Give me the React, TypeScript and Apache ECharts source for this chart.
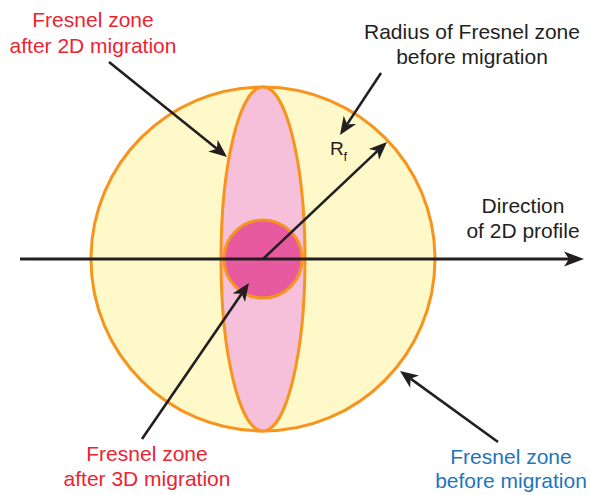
import React, { useEffect, useRef } from "react";
import * as echarts from "echarts";

// Fresnel zones (centre x, centre y, radius x, radius y) in diagram units
const zoneNames = ["before migration", "after 2D migration", "after 3D migration"];
const zoneCenterX = [263, 263, 263];
const zoneCenterY = [259, 259, 259];
const zoneRadiusX = [172, 42, 39];
const zoneRadiusY = [172, 172, 39];

// Arrows: from -> to (tip), in diagram units
const arrowNames = ["2D profile", "Rf", "radius label", "2D label", "3D label", "before label"];
const arrowFromX = [20, 263, 381, 109, 142, 498];
const arrowFromY = [259, 259, 73, 62, 439, 442];
const arrowToX = [584, 387, 340, 227, 249, 400];
const arrowToY = [259, 142, 135, 157, 283, 371];

// Text labels (one entry per line)
const labelLines = [
  "Fresnel zone",
  "after 2D migration",
  "Radius of Fresnel zone",
  "before migration",
  "Direction",
  "of 2D profile",
  "Fresnel zone",
  "after 3D migration",
  "Fresnel zone",
  "before migration",
];
const labelX = [93, 93, 472, 472, 523, 523, 147, 147, 511, 511];
const labelY = [19, 45, 31, 56, 205, 230, 453, 478, 456, 480];
const labelKind = [0, 0, 1, 1, 1, 1, 0, 0, 2, 2];

const ZONE_FILL = ["#fff8c8", "#f7c0da", "#e85aa0"];
const ORANGE = "#f7941d";
const INK = "#231f20";
const KIND_COLOR = ["#ec2431", "#231f20", "#1c76bd"];
const FONT = "Liberation Sans, Arial, Helvetica, sans-serif";

export default function App() {
  const ref = useRef<HTMLDivElement>(null);

  useEffect(() => {
    if (!ref.current) return;
    document.body.style.margin = "0";
    const chart = echarts.init(ref.current, null, { renderer: "svg" });

    const zoneData = zoneNames.map((n, i) => ({
      name: n,
      value: [zoneCenterX[i], zoneCenterY[i], zoneRadiusX[i], zoneRadiusY[i], i],
    }));
    const arrowData = arrowNames.map((n, i) => ({
      name: n,
      value: [arrowFromX[i], arrowFromY[i], arrowToX[i], arrowToY[i], i],
    }));
    const labelData = labelLines.map((t, i) => ({
      name: t,
      value: [labelX[i], labelY[i], labelKind[i], i],
    }));

    const option: any = {
      animation: false,
      grid: { left: 0, right: 0, top: 0, bottom: 0 },
      xAxis: { type: "value", min: 0, max: 590, show: false },
      yAxis: { type: "value", min: 0, max: 495, inverse: true, show: false },
      tooltip: { show: false },
      series: [
        {
          type: "custom",
          silent: true,
          data: zoneData,
          renderItem: (params: any, api: any) => {
            const c = api.coord([api.value(0), api.value(1)]);
            const s = api.size([api.value(2), api.value(3)]);
            const idx = api.value(4);
            return {
              type: "ellipse",
              shape: { cx: c[0], cy: c[1], rx: s[0], ry: s[1] },
              style: { fill: ZONE_FILL[idx], stroke: ORANGE, lineWidth: 3 },
            };
          },
        },
        {
          type: "custom",
          silent: true,
          data: arrowData,
          renderItem: (params: any, api: any) => {
            const a = api.coord([api.value(0), api.value(1)]);
            const b = api.coord([api.value(2), api.value(3)]);
            const idx = api.value(4);
            const dx = b[0] - a[0];
            const dy = b[1] - a[1];
            const len = Math.sqrt(dx * dx + dy * dy);
            const ux = dx / len;
            const uy = dy / len;
            const nx = -uy;
            const ny = ux;
            const L = idx === 0 ? 20 : 18;
            const W = 7.5;
            const notch = 5;
            const back = [b[0] - L * ux, b[1] - L * uy];
            const mid = [b[0] - (L - notch) * ux, b[1] - (L - notch) * uy];
            return {
              type: "group",
              children: [
                {
                  type: "line",
                  shape: { x1: a[0], y1: a[1], x2: mid[0], y2: mid[1] },
                  style: { stroke: INK, lineWidth: idx === 0 ? 3 : 2.6 },
                },
                {
                  type: "polygon",
                  shape: {
                    points: [
                      [b[0], b[1]],
                      [back[0] + W * nx, back[1] + W * ny],
                      [mid[0], mid[1]],
                      [back[0] - W * nx, back[1] - W * ny],
                    ],
                  },
                  style: { fill: INK },
                },
              ],
            };
          },
        },
        {
          type: "custom",
          silent: true,
          data: labelData,
          renderItem: (params: any, api: any) => {
            const p = api.coord([api.value(0), api.value(1)]);
            const kind = api.value(2);
            const i = api.value(3);
            return {
              type: "text",
              style: {
                text: labelLines[i],
                x: p[0],
                y: p[1],
                fill: KIND_COLOR[kind],
                fontSize: 21,
                fontFamily: FONT,
                align: "center",
                verticalAlign: "middle",
              },
            };
          },
        },
        {
          type: "custom",
          silent: true,
          data: [[330, 148]],
          renderItem: (params: any, api: any) => {
            const p = api.coord([api.value(0), api.value(1)]);
            return {
              type: "group",
              children: [
                {
                  type: "text",
                  style: {
                    text: "R",
                    x: p[0],
                    y: p[1],
                    fill: INK,
                    fontSize: 19,
                    fontFamily: FONT,
                    align: "left",
                    verticalAlign: "middle",
                  },
                },
                {
                  type: "text",
                  style: {
                    text: "f",
                    x: p[0] + 13.5,
                    y: p[1] + 8,
                    fill: INK,
                    fontSize: 13,
                    fontFamily: FONT,
                    align: "left",
                    verticalAlign: "middle",
                  },
                },
              ],
            };
          },
        },
      ],
    };

    chart.setOption(option);
    return () => chart.dispose();
  }, []);

  return (
    <div
      ref={ref}
      style={{ position: "relative", width: 590, height: 495, background: "#ffffff" }}
    />
  );
}
